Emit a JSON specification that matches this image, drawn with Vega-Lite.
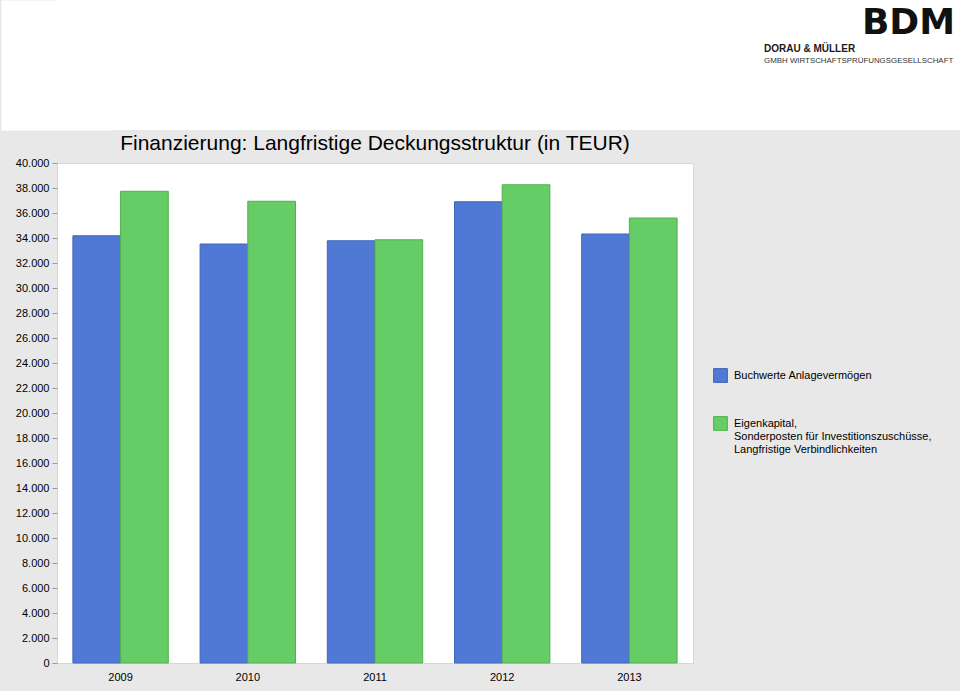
{
  "$schema": "https://vega.github.io/schema/vega-lite/v6.json",
  "background": "#e8e8e8",
  "padding": {"left": 0, "top": 0, "right": 0, "bottom": 8},
  "spacing": 2,
  "config": {
    "font": "Liberation Sans",
    "view": {"stroke": null},
    "locale": {"number": {"decimal": ",", "thousands": ".", "grouping": [3], "currency": ["", " €"]}}
  },
  "vconcat": [
    {
      "width": 904,
      "height": 130,
      "view": {"fill": "white", "stroke": null},
      "data": {"values": [{"text": "BDM", "part": "logo"}, {"text": "DORAU & MÜLLER", "part": "name"}, {"text": "GMBH WIRTSCHAFTSPRÜFUNGSGESELLSCHAFT", "part": "sub"}]},
      "layer": [
        {
          "transform": [{"filter": "datum.part == 'logo'"}],
          "mark": {"type": "text", "font": "DejaVu Sans", "fontWeight": "bold", "fontSize": 36, "align": "right", "baseline": "alphabetic", "color": "#111"},
          "encoding": {
            "text": {"field": "text"},
            "x": {"datum": 0.9934, "type": "quantitative", "scale": {"domain": [0, 1], "nice": false, "zero": false}, "axis": null},
            "y": {"datum": 0.7385, "type": "quantitative", "scale": {"domain": [0, 1], "nice": false, "zero": false},
              "axis": {"title": null, "labels": false, "ticks": false, "grid": false, "domain": true, "domainColor": "white", "domainWidth": 112, "minExtent": 0}}
          }
        },
        {
          "transform": [{"filter": "datum.part == 'name'"}],
          "mark": {"type": "text", "fontWeight": "bold", "fontSize": 10, "align": "left", "baseline": "alphabetic", "color": "#1a1a1a"},
          "encoding": {
            "text": {"field": "text"},
            "x": {"datum": 0.7821, "type": "quantitative", "scale": {"domain": [0, 1], "nice": false, "zero": false}, "axis": null},
            "y": {"datum": 0.6, "type": "quantitative", "scale": {"domain": [0, 1], "nice": false, "zero": false},
              "axis": {"title": null, "labels": false, "ticks": false, "grid": false, "domain": true, "domainColor": "white", "domainWidth": 112, "minExtent": 0}}
          }
        },
        {
          "transform": [{"filter": "datum.part == 'sub'"}],
          "mark": {"type": "text", "fontSize": 7.9, "align": "left", "baseline": "alphabetic", "color": "#333"},
          "encoding": {
            "text": {"field": "text"},
            "x": {"datum": 0.7821, "type": "quantitative", "scale": {"domain": [0, 1], "nice": false, "zero": false}, "axis": null},
            "y": {"datum": 0.515, "type": "quantitative", "scale": {"domain": [0, 1], "nice": false, "zero": false},
              "axis": {"title": null, "labels": false, "ticks": false, "grid": false, "domain": true, "domainColor": "white", "domainWidth": 112, "minExtent": 0}}
          }
        }
      ]
    },
    {
      "width": 636,
      "height": 500,
      "view": {"fill": "white", "stroke": "#d6d6d6"},
      "title": {"text": "Finanzierung: Langfristige Deckungsstruktur (in TEUR)", "fontSize": 21, "fontWeight": "normal", "color": "#000", "offset": 3, "anchor": "middle"},
      "data": {"values": [
        {"year": "2009", "series": "Buchwerte Anlagevermögen", "value": 34180},
        {"year": "2009", "series": "Eigenkapital, Sonderposten für Investitionszuschüsse, Langfristige Verbindlichkeiten", "value": 37740},
        {"year": "2010", "series": "Buchwerte Anlagevermögen", "value": 33520},
        {"year": "2010", "series": "Eigenkapital, Sonderposten für Investitionszuschüsse, Langfristige Verbindlichkeiten", "value": 36940},
        {"year": "2011", "series": "Buchwerte Anlagevermögen", "value": 33780},
        {"year": "2011", "series": "Eigenkapital, Sonderposten für Investitionszuschüsse, Langfristige Verbindlichkeiten", "value": 33860},
        {"year": "2012", "series": "Buchwerte Anlagevermögen", "value": 36900},
        {"year": "2012", "series": "Eigenkapital, Sonderposten für Investitionszuschüsse, Langfristige Verbindlichkeiten", "value": 38260},
        {"year": "2013", "series": "Buchwerte Anlagevermögen", "value": 34320},
        {"year": "2013", "series": "Eigenkapital, Sonderposten für Investitionszuschüsse, Langfristige Verbindlichkeiten", "value": 35600}
      ]},
      "mark": {"type": "bar", "strokeWidth": 1},
      "encoding": {
        "x": {"field": "year", "type": "nominal", "scale": {"paddingInner": 0.25, "paddingOuter": 0.125},
          "axis": {"title": null, "labelAngle": 0, "ticks": false, "domain": false, "labelFontSize": 11, "labelColor": "#000", "labelPadding": 8}},
        "xOffset": {"field": "series", "type": "nominal", "sort": ["Buchwerte Anlagevermögen", "Eigenkapital, Sonderposten für Investitionszuschüsse, Langfristige Verbindlichkeiten"]},
        "y": {"field": "value", "type": "quantitative", "scale": {"domain": [0, 40000], "nice": false},
          "axis": {"title": null, "values": [0, 2000, 4000, 6000, 8000, 10000, 12000, 14000, 16000, 18000, 20000, 22000, 24000, 26000, 28000, 30000, 32000, 34000, 36000, 38000, 40000],
            "format": ",d", "grid": false, "domain": false, "tickColor": "#9a9a9a", "tickSize": 5, "labelPadding": 3, "labelFontSize": 11, "labelColor": "#000", "minExtent": 56}},
        "fill": {"field": "series", "type": "nominal",
          "scale": {"domain": ["Buchwerte Anlagevermögen", "Eigenkapital, Sonderposten für Investitionszuschüsse, Langfristige Verbindlichkeiten"], "range": ["#5079d5", "#66cc66"]},
          "legend": {"title": null, "orient": "none", "legendX": 656, "legendY": 368, "padding": 0, "symbolType": "square", "symbolSize": 190, "symbolStrokeWidth": 1,
            "labelFontSize": 11, "labelColor": "#000", "labelOffset": 6, "labelLimit": 400, "labelBaseline": "middle", "labelLineHeight": 13, "rowPadding": 29,
            "labelExpr": "split(replace(replace(datum.label, ', ', ',|'), ', ', ',|'), '|')"}},
        "stroke": {"field": "series", "type": "nominal",
          "scale": {"domain": ["Buchwerte Anlagevermögen", "Eigenkapital, Sonderposten für Investitionszuschüsse, Langfristige Verbindlichkeiten"], "range": ["#4064b8", "#52b052"]}}
      }
    }
  ]
}
